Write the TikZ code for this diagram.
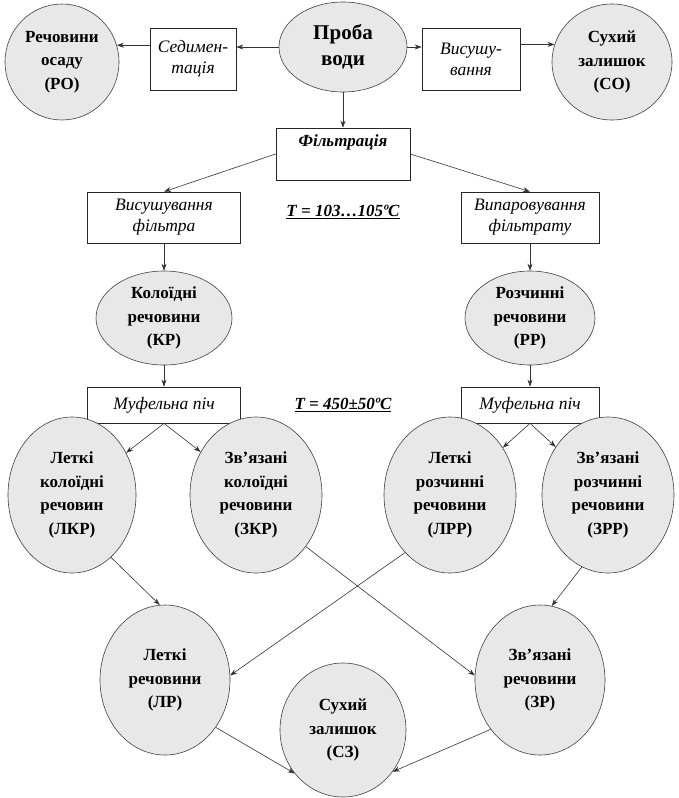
\documentclass[tikz,border=0pt]{standalone}
\usepackage{fontspec}
\setmainfont{Liberation Serif}
\usetikzlibrary{shapes.geometric,arrows.meta}
\tikzset{
  ell/.style={ellipse, draw=black!75, line width=0.6pt, fill=black!9, inner sep=0pt,
    align=center, font=\bfseries\fontsize{17}{23.5}\selectfont},
  box/.style={rectangle, draw=black!85, line width=0.7pt, fill=white, inner sep=0pt,
    align=center, font=\itshape\fontsize{17.5}{21}\selectfont},
  arr/.style={draw=black!80, line width=0.6pt, -{Stealth[length=7pt,width=5pt]}},
  temp/.style={font=\bfseries\itshape\fontsize{17}{20}\selectfont}
}
\begin{document}
\begin{tikzpicture}[x=1pt,y=-1pt]
\useasboundingbox (0,0) rectangle (678,798);
% top row
\node[ell, minimum width=114, minimum height=116] (ro) at (62,62) {Речовини\\осаду\\(РО)};
\node[box, minimum width=86, minimum height=62] (sed) at (193,59) {Седимен-\\тація};
\node[ell, minimum width=128, minimum height=90, font=\bfseries\fontsize{21}{26}\selectfont] (proba) at (343,47) {Проба\\води};
\node[box, minimum width=98, minimum height=62] (vys) at (471,59) {Висушу-\\вання};
\node[ell, minimum width=120, minimum height=116] (co) at (612,62) {Сухий\\залишок\\(СО)};
% filtration
\node[box, minimum width=134, minimum height=52, font=\bfseries\itshape\fontsize{17}{21}\selectfont] (filt) at (343,154) {Фільтрація\\\strut};
\node[box, minimum width=153, minimum height=51] (vf) at (164,217.5) {Висушування\\фільтра};
\node[temp] (t1) at (343,212) {\underline{Т = 103…105ºC}};
\node[box, minimum width=138, minimum height=51] (vpf) at (530,217.5) {Випаровування\\фільтрату};
% KR / PP
\node[ell, minimum width=136, minimum height=94] (kr) at (164,318) {Колоїдні\\речовини\\(КР)};
\node[ell, minimum width=130, minimum height=94] (pp) at (530,318) {Розчинні\\речовини\\(РР)};
% muffle
\node[box, minimum width=153, minimum height=36] (m1) at (164,405) {Муфельна піч};
\node[temp] (t2) at (343,405) {\underline{Т = 450±50ºC}};
\node[box, minimum width=138, minimum height=36] (m2) at (530,405) {Муфельна піч};
% fractions
\node[ell, minimum width=128, minimum height=156] (lkr) at (72,495) {Леткі\\колоїдні\\речовин\\(ЛКР)};
\node[ell, minimum width=132, minimum height=156] (zkr) at (256,495) {Зв’язані\\колоїдні\\речовини\\(ЗКР)};
\node[ell, minimum width=132, minimum height=156] (lpp) at (450,495) {Леткі\\розчинні\\речовини\\(ЛРР)};
\node[ell, minimum width=132, minimum height=156] (zpp) at (608,495) {Зв’язані\\розчинні\\речовини\\(ЗРР)};
% results
\node[ell, minimum width=130, minimum height=150] (lr) at (165,680) {Леткі\\речовини\\(ЛР)};
\node[ell, minimum width=130, minimum height=150] (zr) at (540,680) {Зв’язані\\речовини\\(ЗР)};
\node[ell, minimum width=126, minimum height=134] (sz) at (343,730) {Сухий\\залишок\\(СЗ)};
% connectors
\draw[arr] (sed.west |- ro.17) -- (ro.17);
\draw[arr] (proba.west) -- (proba.west -| sed.east);
\draw[arr] (proba.east) -- (proba.east -| vys.west);
\draw[arr] (vys.east |- co.163) -- (co.163);
\draw[arr] (proba.south) -- (filt.north);
\draw[arr] (filt.west) -- (vf.north);
\draw[arr] (filt.east) -- (vpf.north);
\draw[arr] (vf.south) -- (kr.north);
\draw[arr] (vpf.south) -- (pp.north);
\draw[arr] (kr.south) -- (m1.north);
\draw[arr] (pp.south) -- (m2.north);
\draw[arr] (m1.south) -- (lkr);
\draw[arr] (m1.south) -- (zkr);
\draw[arr] (m2.south) -- (lpp);
\draw[arr] (m2.south) -- (zpp);
\draw[arr] (lkr.-58) -- (lr.94);
\draw[arr] (zkr.-46) -- (zr.176);
\draw[arr] (lpp.-128) -- (lr.4);
\draw[arr] (zpp.-110) -- (zr.81);
\draw[arr] (lr.-43) -- (sz.-138);
\draw[arr] (zr.-135) -- (sz.-40);
\end{tikzpicture}
\end{document}
